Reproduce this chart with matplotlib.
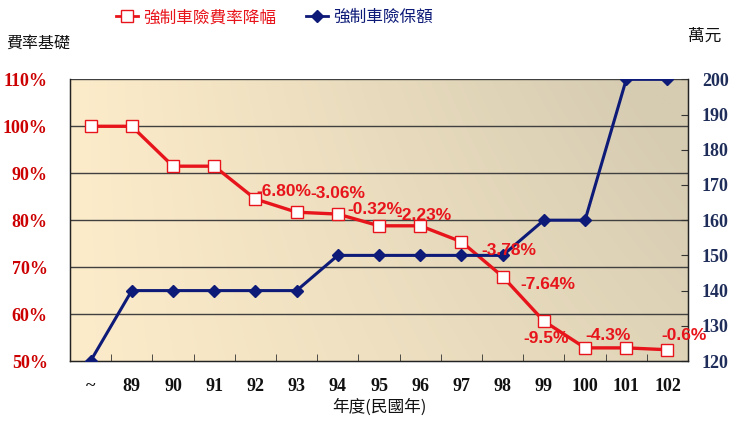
import matplotlib.pyplot as plt
import numpy as np
from matplotlib.lines import Line2D

CJK = ['Noto Sans CJK TC', 'DejaVu Sans']
NUM = 'Liberation Serif'

# Data
years = ['~', '89', '90', '91', '92', '93', '94', '95', '96', '97', '98', '99', '100', '101', '102']
rate_base = [100, 100, 91.5, 91.5, 84.5, 81.7, 81.3, 78.8, 78.8, 75.4, 68.0, 58.5, 52.8, 52.8, 52.4]
coverage = [120, 140, 140, 140, 140, 140, 150, 150, 150, 150, 150, 160, 160, 200, 200]

# label text, x index, y value (left axis %)
drop_labels = ['-6.80%', '-3.06%', '-0.32%', '-2.23%', '-3.78%', '-7.64%', '-9.5%', '-4.3%', '-0.6%']
label_x = [4.68, 6.0, 6.9, 8.1, 10.15, 11.1, 11.05, 12.55, 14.4]
label_y = [86.1, 85.7, 82.2, 81.1, 73.6, 66.2, 54.8, 55.4, 55.4]

RED = '#E8141B'
NAVY = '#0D1A78'
TICK_RED = '#CC0000'
TICK_NAVY = '#1F2D5A'

fig = plt.figure(figsize=(7.32, 4.22), dpi=100)
ax = fig.add_axes([0.0956, 0.1445, 0.8444, 0.6675])
ax2 = ax.twinx()

x = np.arange(len(years))

# gradient background
gx = np.linspace(0, 1, 200)
gy = np.linspace(0, 1, 100)
GX, GY = np.meshgrid(gx, gy)
t = np.clip(0.75 * GX + 0.35 * (1 - GY) * GX, 0, 1)
c0 = np.array([253, 236, 202]) / 255
c1 = np.array([214, 204, 178]) / 255
img = c0[None, None, :] * (1 - t[..., None]) + c1[None, None, :] * t[..., None]
ax.imshow(img, extent=[-0.5, len(years) - 0.5, 50, 110], aspect='auto', zorder=0, origin='upper')

ax.set_xlim(-0.5, len(years) - 0.5)
ax.set_ylim(50, 110)
ax2.set_ylim(120, 200)

for v in range(60, 111, 10):
    ax.axhline(v, color='#404040', lw=1.0, zorder=1)

ax.plot(x, rate_base, color=RED, lw=2.4, marker='s', ms=8.5, mfc='white', mec=RED, mew=1.0, zorder=5)
ax2.plot(x, coverage, color=NAVY, lw=2.2, marker='D', ms=6, mfc=NAVY, mec=NAVY, zorder=5)
ax.set_zorder(2)
ax2.set_zorder(3)
ax.patch.set_visible(False)
ax2.patch.set_visible(False)

for txt, lx, ly in zip(drop_labels, label_x, label_y):
    ax2.text(lx, 120 + (ly - 50) / 60 * 80, txt, color=RED, fontsize=12.5, fontweight='bold',
             family='Liberation Sans', ha='center', va='center', zorder=6)

# axes styling
ax.set_yticks(range(50, 111, 10))
ax.set_yticklabels([f'{v}%' for v in range(50, 111, 10)], fontsize=13, fontweight='bold',
                   color=TICK_RED, family=NUM)
ax.tick_params(axis='y', length=0, pad=16)
ax2.set_yticks(range(120, 201, 10))
ax2.set_yticklabels([str(v) for v in range(120, 201, 10)], fontsize=13, fontweight='bold',
                    color=TICK_NAVY, family=NUM)
ax2.tick_params(axis='y', direction='in', length=5, pad=10, color='#333333')

ax.set_xticks(x)
ax.set_xticklabels(years, fontsize=13, fontweight='bold', family=NUM, color='#111111')
ax.tick_params(axis='x', length=0, pad=12)
ax.set_xticks(np.arange(0.5, len(years) - 1, 1), minor=True)
ax.tick_params(axis='x', which='minor', direction='in', length=5, color='#333333')

for sp in ax2.spines.values():
    sp.set_color('#222222')
    sp.set_linewidth(1.0)
ax2.spines['top'].set_visible(False)
for sp in ax.spines.values():
    sp.set_color('#222222')
ax.spines['top'].set_visible(False)

ax.set_xlabel('年度(民國年)', family=CJK, fontsize=12, labelpad=3, color='#111111')

fig.text(0.052, 0.898, '費率基礎', family=CJK, fontsize=11.5, ha='center', va='center', color='#111111')
fig.text(0.963, 0.915, '萬元', family=CJK, fontsize=12, ha='center', va='center', color='#111111')

handles = [
    Line2D([], [], color=RED, lw=2, marker='s', ms=8, mfc='white', mec=RED),
    Line2D([], [], color=NAVY, lw=2, marker='D', ms=6, mfc=NAVY, mec=NAVY),
]
leg = fig.legend(handles, ['強制車險費率降幅', '強制車險保額'], loc='center', bbox_to_anchor=(0.375, 0.958),
                 ncol=2, frameon=False, prop={'family': CJK, 'size': 12}, handlelength=1.3,
                 handletextpad=0.3, columnspacing=1.8)
leg.get_texts()[0].set_color(RED)
leg.get_texts()[1].set_color(NAVY)

fig.savefig('out.png', dpi=100)
